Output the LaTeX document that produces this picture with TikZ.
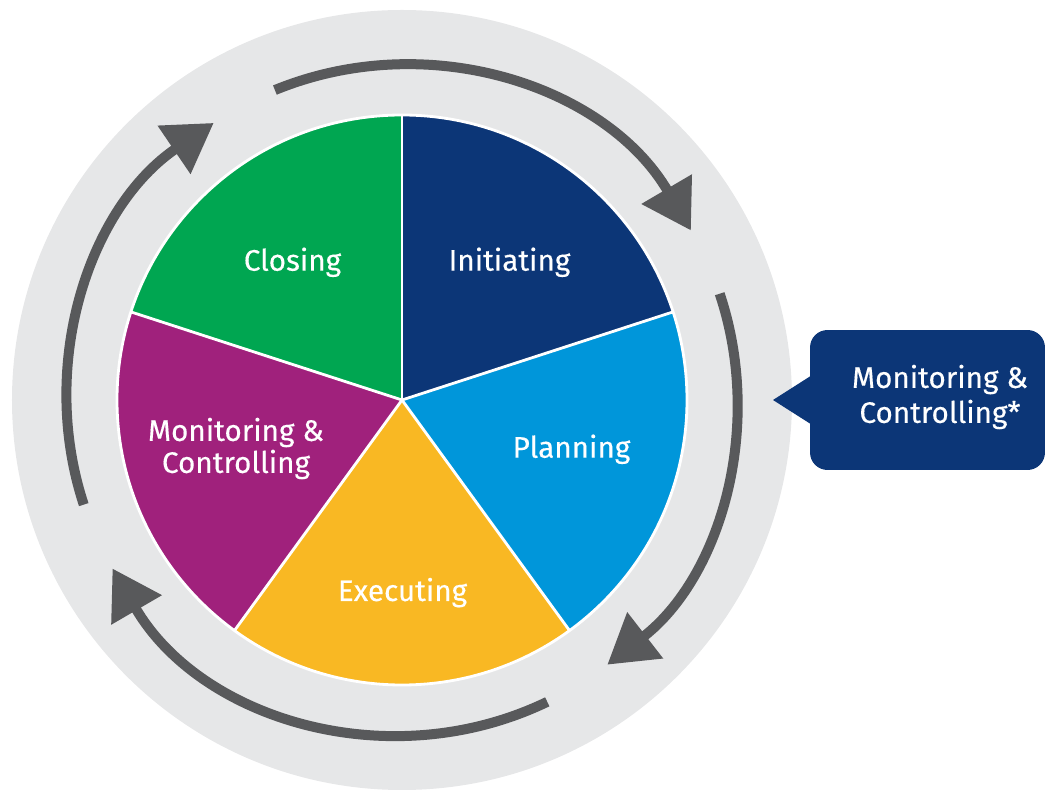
\documentclass[tikz,border=0pt]{standalone}
\usepackage{fontspec}
\setmainfont{Fira Sans}
\newfontfamily\phasefont{Fira Sans}[FakeBold=0.3]
\usetikzlibrary{arrows.meta,calc}
\definecolor{ringgray}{HTML}{E6E7E8}
\definecolor{arrowgray}{HTML}{58595B}
\definecolor{initblue}{HTML}{0C3677}
\definecolor{planblue}{HTML}{0096DA}
\definecolor{execyellow}{HTML}{F9B823}
\definecolor{monpurple}{HTML}{A0217C}
\definecolor{closegreen}{HTML}{00A651}

\begin{document}
\begin{tikzpicture}[x=0.02cm, y=0.02cm,
    cyclearrow/.style={arrowgray, line width=0.2cm, -{Triangle[width=1.12cm,length=0.96cm]}},
    phase/.style={text=white, font=\phasefont\fontsize{16.9}{18.2}\selectfont, align=center, inner sep=0pt},
    callbox/.style={fill=initblue, rounded corners=0.35cm, minimum width=4.7cm, minimum height=2.8cm}]
\useasboundingbox (-402,-390) rectangle (643,400); % frame of the picture
\fill[ringgray] (0,0) circle [radius=390]; % gray ring
\fill[initblue] (0,0) -- (18:285) arc [start angle=18, end angle=90, radius=285] -- cycle; % Initiating
\fill[planblue] (0,0) -- (-54:285) arc [start angle=-54, end angle=18, radius=285] -- cycle; % Planning
\fill[execyellow] (0,0) -- (234:285) arc [start angle=234, end angle=306, radius=285] -- cycle; % Executing
\fill[monpurple] (0,0) -- (162:285) arc [start angle=162, end angle=234, radius=285] -- cycle; % Monitoring
\fill[closegreen] (0,0) -- (90:285) arc [start angle=90, end angle=162, radius=285] -- cycle; % Closing
\foreach \a in {18,90,162,234,306}
  \draw[white, line width=1.6pt] (0,0) -- (\a:285); % spokes
\draw[white, line width=1.6pt] (0,0) circle [radius=285]; % rim
\draw[cyclearrow] (112.3:335) arc [start angle=112.3, end angle=30.4, radius=335]; % top arrow
\draw[cyclearrow] (18.5:335) arc [start angle=18.5, end angle=-52.2, radius=335]; % right arrow
\draw[cyclearrow] (-64.3:335) arc [start angle=-64.3, end angle=-149.8, radius=335]; % bottom arrow
\draw[cyclearrow] (198.2:335) arc [start angle=198.2, end angle=124.2, radius=335]; % left arrow
\node[phase, anchor=base] (closing) at (-109.5,129.3) {Closing};
\node[phase, anchor=base] (initiating) at (107.5,129.3) {Initiating};
\node[phase, anchor=base] (planning) at (169.5,-57.7) {Planning};
\node[phase, anchor=base] (executing) at (0.5,-201) {Executing};
\node[phase] (monitoring) at (-166,-48.5) {Monitoring \&\\Controlling};
\node[callbox] (mcbox) at (525.5,0) {}; % callout box
\fill[initblue] ($(mcbox.west)+(1,24)$) -- (371,0) -- ($(mcbox.west)+(1,-24)$) -- cycle; % callout pointer
\node[phase, font=\phasefont\fontsize{16.9}{19.9}\selectfont] (mctext) at (538,3) {Monitoring \&\\Controlling*};
\end{tikzpicture}
\end{document}
